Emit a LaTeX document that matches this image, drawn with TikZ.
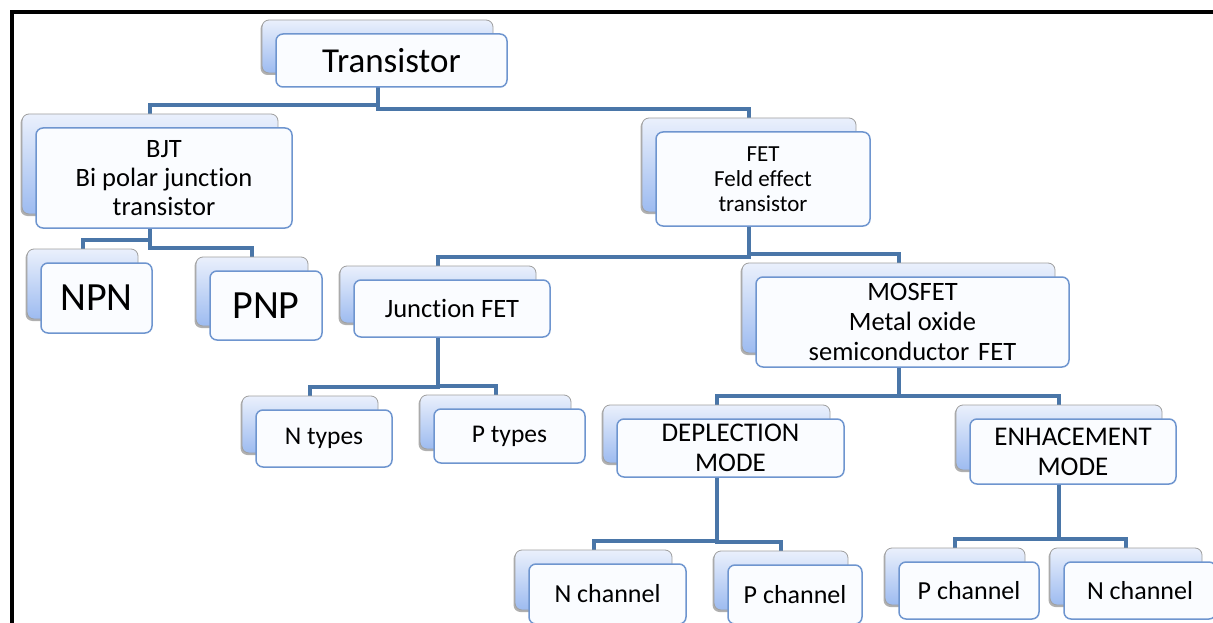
\documentclass[tikz,border=0pt]{standalone}
\usepackage{fontspec}
\setmainfont{Carlito}[Ligatures={NoCommon,NoContextual}]
\usetikzlibrary{shadows}
\definecolor{connc}{HTML}{4A76A8}
\definecolor{backtop}{HTML}{EAF0FC}
\definecolor{backbot}{HTML}{9DBBF0}
\definecolor{frontfill}{HTML}{FAFCFF}
\definecolor{frontdraw}{HTML}{6E95CF}
\definecolor{shadowc}{HTML}{505050}
\pgfdeclarelayer{bg}\pgfdeclarelayer{conn}\pgfsetlayers{bg,conn,main}
\tikzset{
  backbox/.style={rounded corners=7pt, top color=backtop, bottom color=backbot,
    draw=shadowc!55, line width=0.8pt, inner sep=0pt,
    drop shadow={shadow xshift=-1.5pt, shadow yshift=-2pt, opacity=0.45, fill=shadowc}},
  frontbox/.style={rounded corners=7pt, fill=frontfill, draw=frontdraw, line width=1.5pt,
    inner sep=0pt, align=center, text=black},
  link/.style={draw=connc, line width=4pt, line join=miter},
  frame/.style={draw=black, line width=4pt, line join=miter}
}
\newcommand\tbox[7]{%
  \pgfmathsetmacro\bw{#4-#2}\pgfmathsetmacro\bh{#5-#3}%
  \pgfmathsetmacro\bx{(#2+#4)/2}\pgfmathsetmacro\by{(#3+#5)/2}%
  \node[backbox, minimum width=\bw pt, minimum height=\bh pt] (#1-back) at (\bx-14,\by-14) {};
  \node[frontbox, minimum width=\bw pt, minimum height=\bh pt, font=#6] (#1) at (\bx,\by) {#7};
}
\begin{document}
\begin{tikzpicture}[x=1pt,y=-1pt]
\useasboundingbox (0,0) rectangle (1213,623);
\begin{pgfonlayer}{bg}
  \fill[white] (0,0) rectangle (1213,623);
\end{pgfonlayer}

\tbox{t}{276}{34}{507}{87}{\fontsize{35}{38}\selectfont}{Transistor}
\tbox{bjt}{36}{128}{292}{228}{\fontsize{26.5}{29}\selectfont}{BJT\\Bi polar junction\\transistor}
\tbox{npn}{41}{263}{152}{333}{\fontsize{40}{44}\selectfont}{NPN}
\tbox{pnp}{210}{271}{322}{340}{\fontsize{40}{44}\selectfont}{PNP}
\tbox{fet}{656}{132}{870}{226}{\fontsize{23}{25}\selectfont}{FET\\Feld effect\\transistor}
\tbox{jfet}{354}{280}{550}{337}{\fontsize{26.5}{30}\selectfont}{Junction FET}
\tbox{mos}{756}{277}{1069}{367}{\fontsize{26.5}{30}\selectfont}{MOSFET\\Metal oxide\\semiconductor\hspace{3pt} FET}
\tbox{nt}{256}{410}{392}{467}{\fontsize{25.5}{30}\selectfont}{N types}
\tbox{pt}{434}{409}{585}{463}{\fontsize{25.5}{30}\selectfont}{P types}
\tbox{dep}{617}{419}{844}{477}{\fontsize{27}{30}\selectfont}{DEPLECTION\\MODE}
\tbox{enh}{970}{419}{1176}{484}{\fontsize{27}{30}\selectfont}{ENHACEMENT\\MODE}
\tbox{nca}{529}{564}{686}{624}{\fontsize{26}{30}\selectfont}{N channel}
\tbox{pca}{728}{565}{862}{624}{\fontsize{26}{30}\selectfont}{P channel}
\tbox{pcb}{899}{562}{1039}{619}{\fontsize{26}{30}\selectfont}{P channel}
\tbox{ncb}{1064}{562}{1216}{619}{\fontsize{26}{30}\selectfont}{N channel}

\begin{pgfonlayer}{conn}
  \foreach \p/\c in {t/bjt,t/fet,bjt/npn,bjt/pnp,fet/jfet,fet/mos,jfet/nt,jfet/pt,
                     mos/dep,mos/enh,dep/nca,dep/pca,enh/pcb,enh/ncb}
    \draw[link] (\p-back.center) |- ([yshift=8.5pt]\c-back.north) -- (\c-back.north);
\end{pgfonlayer}

\coordinate (fbl) at (12,623);
\coordinate (ftl) at (12,12);
\coordinate (ftr) at (1213,12);
\draw[frame] (fbl) -- (ftl) -- (ftr);
\end{tikzpicture}
\end{document}
